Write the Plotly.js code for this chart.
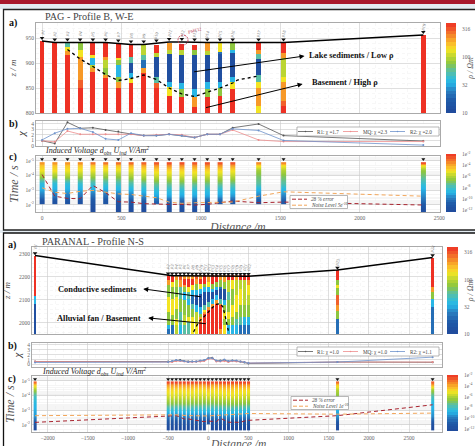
<!DOCTYPE html>
<html><head><meta charset="utf-8">
<script src="https://cdn.plot.ly/plotly-3.0.1.min.js"></script>
<style>html,body{margin:0;padding:0;background:#fff;overflow:hidden}#c{width:475px;height:446px}</style>
</head><body><div id="c"></div>
<script>
// resistivity colour codes (log10 ohm m)
const R=2.6,D=2.47,O=2.33,Y=2.12,L=2.0,G=1.88,T=1.74,C=1.54,M=1.32,B=1.08;

// ---- PAG profile ----
const pagX=[0,80,160,240,320,400,480,560,640,720,800,880,960,1040,1120,1200,1363,1520,2400];
const pagElev=[944,941,941,941,941,941,939,937,937,939,942,942,941,941,941,941,941,941,956];
const pagLayers=[
 [[944,R]],
 [[941,R]],
 [[941,T],[933,Y],[925,O],[917,R]],
 [[941,G],[927,Y],[913,O],[867,D],[850,R]],
 [[941,R],[917,Y],[911,C],[897,L],[890,O],[883,R]],
 [[941,R],[913,O],[907,L],[890,G],[877,O],[870,R]],
 [[938,R],[910,Y],[907,G],[897,C],[873,G],[863,O],[850,R]],
 [[937,R],[913,T],[900,B],[880,C],[870,Y],[860,R]],
 [[937,L],[917,T],[907,M],[890,O],[880,R]],
 [[937,R],[920,L],[912,B],[873,T],[861,D],[850,R]],
 [[941,O],[927,L],[918,B],[863,C],[852,Y],[835,R]],
 [[938,R],[927,L],[917,B],[861,C],[848,G],[833,R]],
 [[937,R],[927,G],[917,B],[848,C],[832,O],[813,R]],
 [[941,O],[925,L],[917,B],[863,C],[848,G],[832,R]],
 [[941,Y],[922,M],[918,B],[863,C],[850,G],[835,R]],
 [[941,G],[927,C],[920,B],[873,C],[863,Y],[848,R]],
 [[941,R],[927,O],[918,T],[908,B],[877,T],[863,Y],[850,O],[815,Y]],
 [[941,R],[920,O],[910,L],[873,Y],[863,O],[825,D],[815,R]],
 [[956,R]]
];
const pagInterfaceX=[160,240,320,400,480,560,640,720,800,880,960,1040,1120,1200,1230,1363];
const pagInterfaceZ=[927,908,893,877,865,869,876,867,850,838,833,841,850,860,866,874];
const pagR1=[0.9,0.4,4.3,3.2,3.3,2.9,2.6,2.15,1.85,1.85,2.1,1.85,1.5,2.1,2.1,3.3,4.0,1.85,0.85];
const pagMQ=[0.9,0.7,2.7,2.1,2.1,2.1,2.1,2.1,1.85,2.0,2.1,2.0,1.5,2.1,2.1,2.9,1.05,0.75,0.75];
const pagR2=[1.05,2.3,3.1,3.2,2.5,1.25,1.05,2.3,1.85,1.85,2.1,1.85,1.5,2.1,2.1,3.1,2.8,0.95,0.1];
const pagError=[8.5e-5,2.6e-3,3.7e-3,3.9e-3,4.8e-4,1.5e-3,6.3e-3,6.6e-3,8.5e-3,9.5e-3,9.5e-3,9.5e-3,1.05e-2,9.5e-3,7.3e-3,5.6e-3,7.3e-3,6.6e-3,1.05e-2];
const pagNoise=[6.9e-4,1.4e-3,1.7e-3,1.2e-3,1.05e-3,1.4e-3,1.8e-3,2e-3,2.6e-3,3.3e-3,6.6e-3,8.1e-3,7.3e-3,7.3e-3,6.6e-3,6.6e-3,2.6e-3,1.3e-3,2.6e-3];
const pagGates=[1.38e-5,1.8e-5,4e-5,1.1e-4,3.2e-4,8.9e-4,2.5e-3,6.1e-3,1.87e-2];
const pagDecay=[
 [-3.7,-4.5,-5.1,-6.3,-8.5,-9.0,-10.0,-11.5],
 [-3.7,-4.5,-5.0,-6.4,-8.4,-9.0,-10.1,-11.5],
 [-3.7,-4.5,-5.1,-6.2,-8.3,-9.0,-10.0,-11.4],
 [-3.6,-4.5,-5.2,-6.3,-8.2,-9.0,-10.1,-11.5],
 [-3.2,-4.5,-5.2,-6.4,-8.0,-9.0,-10.3,-11.2,-12],
 [-3.2,-4.5,-5.3,-6.5,-8.0,-9.0,-10.3,-11.3],
 [-3.1,-4.4,-5.3,-6.5,-7.9,-8.9,-10.2,-11.2,-12],
 [-3.0,-4.2,-5.2,-6.2,-7.7,-8.8,-10.0,-11.2,-12],
 [-2.9,-4.0,-5.0,-6.0,-7.5,-8.6,-9.6,-11.0,-12],
 [-2.7,-3.7,-4.8,-5.7,-7.2,-8.3,-9.2,-10.6],
 [-2.6,-3.6,-4.8,-5.7,-7.2,-8.3,-9.2,-10.6,-11.8],
 [-2.6,-3.6,-4.8,-5.6,-7.1,-8.3,-9.2,-10.6,-11.8],
 [-2.7,-3.7,-4.8,-5.7,-7.2,-8.3,-9.2,-10.6,-11.8],
 [-2.6,-3.6,-4.8,-5.7,-7.2,-8.3,-9.2,-10.6,-11.8],
 [-2.7,-3.7,-4.9,-5.8,-7.2,-8.4,-9.3,-10.8],
 [-2.7,-3.8,-5.0,-5.9,-7.3,-8.5,-9.4,-11.0],
 [-3.5,-4.8,-6.3,-7.0,-7.5,-8.8,-9.8,-11.3],
 [-3.5,-5.0,-6.0,-6.9,-7.6,-8.7,-9.8,-11.0],
 [-2.6,-5.0,-6.5,-7.2,-8.2,-9.0,-9.6,-10.4,-11.8]
];

// ---- PARANAL profile ----
const parX=[-2157,-500,-450,-400,-350,-300,-250,-200,-150,-100,-50,0,50,100,150,200,250,300,350,400,450,500,1608,2793];
const parElev=[2293,2205,2205,2205,2205,2205,2205,2204,2204,2204,2204,2204,2203,2203,2203,2203,2203,2203,2203,2203,2203,2203,2230,2284];
const parLayers=[
 [[2293,R],[2117,C],[2083,B]],
 [[2207,R],[2185,O],[2164,G],[2113,Y],[2048,G],[1990,C],[1975,M]],
 [[2207,R],[2178,Y],[2156,G],[2106,Y],[2033,G],[1990,M]],
 [[2207,O],[2185,L],[2156,G],[2113,Y],[2062,G],[2019,Y],[1990,L]],
 [[2207,D],[2185,O],[2156,T],[2106,G],[2048,T],[1990,C]],
 [[2207,O],[2193,R],[2164,O],[2156,G],[2135,C],[2098,G],[2033,L],[1990,T]],
 [[2207,O],[2193,R],[2156,Y],[2135,T],[2106,C],[2077,G],[2026,Y],[2004,T]],
 [[2207,O],[2193,R],[2164,Y],[2142,C],[2120,M],[2084,T],[2062,G],[2026,Y]],
 [[2207,D],[2193,O],[2171,G],[2142,C],[2120,B],[2077,C],[2048,L],[2004,Y]],
 [[2207,O],[2193,R],[2171,Y],[2149,C],[2127,B],[2069,C],[2040,G],[2026,O],[2004,R]],
 [[2207,R],[2171,G],[2156,C],[2135,B],[2077,T],[2055,Y],[2048,O],[2040,R]],
 [[2207,O],[2178,Y],[2156,C],[2135,B],[2091,T],[2069,O],[2055,R]],
 [[2207,R],[2171,G],[2149,C],[2135,B],[2106,C],[2084,O],[2069,R]],
 [[2207,R],[2178,G],[2156,C],[2142,B],[2120,C],[2098,O],[2084,R]],
 [[2207,O],[2185,G],[2156,M],[2149,B],[2106,T],[2084,O],[2077,R],[1975,O]],
 [[2207,O],[2178,G],[2149,B],[2098,C],[2077,G],[2048,Y],[2019,G],[1990,Y]],
 [[2207,R],[2185,L],[2135,T],[2098,G],[2048,Y],[2019,G],[1990,C]],
 [[2207,R],[2185,Y],[2149,G],[2077,Y],[2026,G],[1990,C]],
 [[2207,O],[2185,L],[2120,Y],[2048,G],[2019,T],[1990,C]],
 [[2207,R],[2185,L],[2149,Y],[2077,G],[2026,T],[1990,M]],
 [[2207,R],[2185,L],[2077,G],[2026,C],[1990,M]],
 [[2207,R],[2185,O],[2164,Y],[2120,L],[2077,G],[2026,C],[1990,M]],
 [[2230,R],[2187,G],[2165,Y],[2150,G],[2122,D],[2080,O],[2052,G],[2017,M]],
 [[2284,R],[2158,O],[2133,G],[2104,C],[2071,M]]
];
const parInterfaceX=[-183,-121,-37,25,87,150,183,212,253];
const parInterfaceZ=[1961,2004,2033,2055,2080,2084,2069,2026,1961];
const parR1=[0.6,0.6,0.6,0.8,0.9,0.7,0.6,0.6,0.6,0.7,0.8,1.3,1.4,0.7,0.8,0.9,0.6,0.8,0.7,0.6,0.4,0.2,0.5,0.45];
const parMQ=[0.6,0.5,0.5,0.7,0.7,0.6,0.5,0.5,0.6,0.6,0.7,1.1,1.2,0.6,0.6,0.7,0.5,0.7,0.6,0.6,0.5,0.3,0.5,0.5];
const parR2=[0.4,0.5,0.7,0.9,0.8,0.7,0.5,0.6,0.6,0.8,0.9,1.3,1.3,0.8,0.7,1.0,0.7,0.8,0.8,0.6,0.5,0.3,0.5,1.5];
const parError=[6.9e-3,2.4e-3,2.4e-3,2.4e-3,3e-3,4.1e-3,4e-3,4.5e-3,5e-3,6.2e-3,6.2e-3,5.6e-3,6.2e-3,6.2e-3,3.6e-3,5e-3,6.8e-3,6.8e-3,6.8e-3,6.8e-3,5.6e-3,5e-3,2.4e-3,4.3e-4];
const parNoise=[2.4e-3,1.95e-3,2e-3,2.1e-3,2.2e-3,2.4e-3,2.4e-3,2.4e-3,2.5e-3,2.5e-3,2.5e-3,2.5e-3,2.4e-3,2.4e-3,2.2e-3,2.1e-3,2e-3,1.95e-3,1.9e-3,1.8e-3,1.7e-3,1.7e-3,1.9e-3,1.6e-3];
const parGates=[1.27e-5,1.8e-5,4e-5,1.1e-4,3.2e-4,8.9e-4,2.5e-3,6.1e-3,1.6e-2];
const parDecay=[
 [-3.0,-4.5,-6.3,-8.0,-8.7,-9.0,-9.4,-10.8,-12],
 [-2.4,-3.7,-4.8,-5.6,-6.7,-8.3,-9.9,-11.2,-12],
 [-2.4,-3.7,-4.8,-5.5,-6.7,-8.3,-9.9,-11.2,-12],
 [-2.3,-3.6,-4.8,-5.6,-6.8,-8.4,-9.9,-11.3,-12],
 [-2.4,-3.7,-4.9,-5.6,-6.8,-8.4,-9.9,-11.2,-12],
 [-2.4,-3.7,-4.8,-5.6,-6.7,-8.3,-9.8,-11.2,-12],
 [-2.3,-3.6,-4.8,-5.5,-6.7,-8.3,-9.8,-11.1,-12],
 [-2.4,-3.7,-4.8,-5.6,-6.8,-8.3,-9.9,-11.2,-12],
 [-2.4,-3.7,-4.9,-5.6,-6.8,-8.4,-9.9,-11.2,-12],
 [-2.5,-3.8,-4.9,-5.7,-6.8,-8.4,-9.9,-11.2,-12],
 [-2.5,-3.8,-4.9,-5.7,-6.9,-8.4,-10,-11.2,-12],
 [-2.2,-3.2,-4.6,-5.5,-6.8,-8.4,-10,-11.4],
 [-2.5,-3.8,-4.9,-5.7,-6.9,-8.4,-10,-11.2,-12],
 [-2.4,-3.7,-4.8,-5.6,-6.8,-8.3,-9.9,-11.2,-12],
 [-2.4,-3.7,-4.8,-5.6,-6.7,-8.3,-9.8,-11.1,-12],
 [-2.3,-3.6,-4.7,-5.5,-6.7,-8.2,-9.7,-11.1,-12],
 [-2.3,-3.6,-4.7,-5.4,-6.6,-8.1,-9.7,-11,-12],
 [-2.4,-3.6,-4.7,-5.4,-6.6,-8.1,-9.6,-11,-12],
 [-2.4,-3.7,-4.8,-5.5,-6.6,-8.2,-9.7,-11,-12],
 [-2.3,-3.6,-4.8,-5.5,-6.7,-8.2,-9.7,-11.1,-12],
 [-2.4,-3.7,-4.8,-5.6,-6.7,-8.3,-9.8,-11.2,-12],
 [-2.4,-3.7,-4.9,-5.6,-6.8,-8.4,-9.9,-11.2,-12],
 [-3.0,-4.5,-5.9,-6.8,-8.0,-8.9,-9.4,-11,-12],
 [-2.8,-3.8,-6.2,-7.8,-8.8,-9.0,-9.5,-11,-12]
];

// tick labels and texts
const yTimeVals=[1e-5,1e-4,1e-3,1e-2];
const yTimeText=['1e<sup>-5</sup>','1e<sup>-4</sup>','1e<sup>-3</sup>','1e<sup>-2</sup>'];
const rhoVals=[1,1.5,2,2.5];
const rhoText=['10','32','100','316'];
const voltVals=[-12,-10,-8,-6,-4,-2];
const voltText=['1e<sup>-12</sup>','1e<sup>-10</sup>','1e<sup>-8</sup>','1e<sup>-6</sup>','1e<sup>-4</sup>','1e<sup>-2</sup>'];
const pagChiNames=['R1: χ =1.7','MQ: χ =2.3','R2: χ =2.0'];
const parChiNames=['R1: χ =1.0','MQ: χ =1.0','R2: χ =1.1'];
const pagDataNames=['28 % error','Noise Level 5e<sup>-10</sup>'];
const parDataNames=['28 % error','Noise Level 1e<sup>-10</sup>'];

const W=475,H=446;
const SERIF='"Liberation Serif","DejaVu Serif",serif';
const px=x=>x/W, py=y=>1-y/H;
const scale=[[0,'#20499b'],[0.14,'#1f5aa8'],[0.25,'#2a7fc1'],[0.33,'#26b5e8'],[0.38,'#30bcd9'],[0.47,'#5dbf9f'],[0.55,'#8dc63f'],[0.62,'#b7d433'],[0.70,'#f3e422'],[0.76,'#fbc52c'],[0.83,'#f79a28'],[0.92,'#f15f2b'],[1,'#ee3124']];
const tickFont={family:SERIF,size:5.5,color:'#666'};
const COLOR_R1='#555',COLOR_MQ='#ee8d8d',COLOR_R2='#6f93cc',COLOR_ERR='#a8232e',COLOR_NOISE='#f2a65a';
const traces=[];

function addColumns(xs,layers,floor,w,xa,ya){
  const bx=[],bb=[],bh=[],bc=[];
  xs.forEach((x,i)=>layers[i].forEach((l,j)=>{
    const low=j+1<layers[i].length?layers[i][j+1][0]:floor;
    bx.push(x);bb.push(low);bh.push(l[0]-low);bc.push(l[1]);
  }));
  traces.push({type:'bar',x:bx,y:bh,base:bb,width:w,xaxis:xa,yaxis:ya,showlegend:false,hoverinfo:'skip',
    marker:{color:bc,cmin:1,cmax:2.6,colorscale:scale,line:{width:0},showscale:false}});
}
function addDecay(xs,gates,decay,w,xa,ya){
  xs.forEach((x,i)=>traces.push({type:'heatmap',x:[x-w/4,x+w/4],y:gates.slice(0,decay[i].length),z:decay[i].map(v=>[v,v]),zmin:-12.3,zmax:-2,
      colorscale:scale,zsmooth:'best',xaxis:xa,yaxis:ya,hoverinfo:'skip',showlegend:false,showscale:false}));
}
// colour bars drawn as one-column heatmaps on their own small axes, in 24 bands
function addBar(lo,hi,xa,ya){
  const ys=[],z=[];
  for(let k=0;k<24;k++){const v=lo+(k+0.5)/24*(hi-lo);ys.push(v);z.push([v,v]);}
  traces.push({type:'heatmap',x:[0,1],y:ys,z,zmin:lo,zmax:hi,colorscale:scale,xaxis:xa,yaxis:ya,hoverinfo:'skip',showlegend:false,showscale:false});
}
function addLine(x,y,xa,ya,name,color,extra){
  traces.push(Object.assign({type:'scatter',mode:'lines+markers',x,y,xaxis:xa,yaxis:ya,name,showlegend:false,
    line:{color,width:0.8},marker:{color,size:2},hoverinfo:'skip'},extra||{}));
}
function addPanel(xs,elev,lift,ifx,ifz,xa,ya){
  traces.push({type:'scatter',mode:'lines',x:ifx,y:ifz,xaxis:xa,yaxis:ya,showlegend:false,hoverinfo:'skip',line:{color:'#000',width:1.3,dash:'3px,3px'}});
  traces.push({type:'scatter',mode:'lines',x:xs,y:elev,xaxis:xa,yaxis:ya,showlegend:false,hoverinfo:'skip',line:{color:'#000',width:1.5}});
  traces.push({type:'scatter',mode:'markers',x:xs,y:elev.map(e=>e+lift),xaxis:xa,yaxis:ya,showlegend:false,hoverinfo:'skip',marker:{symbol:'triangle-down',color:'#111',size:4}});
}
function addTriangles(xs,t,xa,ya){
  traces.push({type:'scatter',mode:'markers',x:xs,y:xs.map(()=>t),xaxis:xa,yaxis:ya,showlegend:false,hoverinfo:'skip',marker:{symbol:'triangle-down',color:'#111',size:3.5}});
}
const dashLine=c=>({mode:'lines',line:{color:c,width:1,dash:'4px,3px'}});

// top figure
addColumns(pagX,pagLayers,800,30,'x','y');
addPanel(pagX,pagElev,6,pagInterfaceX,pagInterfaceZ,'x','y');
addLine(pagX,pagR1,'x2','y2',pagChiNames[0],COLOR_R1);
addLine(pagX,pagMQ,'x2','y2',pagChiNames[1],COLOR_MQ);
addLine(pagX,pagR2,'x2','y2',pagChiNames[2],COLOR_R2);
addDecay(pagX,pagGates,pagDecay,30,'x3','y3');
addTriangles(pagX,7.5e-6,'x3','y3');
addLine(pagX,pagError,'x3','y3',pagDataNames[0],COLOR_ERR,dashLine(COLOR_ERR));
addLine(pagX,pagNoise,'x3','y3',pagDataNames[1],COLOR_NOISE,dashLine(COLOR_NOISE));

// bottom figure
addColumns(parX,parLayers,1952,35,'x4','y4');
addPanel(parX,parElev,10,parInterfaceX,parInterfaceZ,'x4','y4');
addLine(parX,parR1,'x5','y5',parChiNames[0],COLOR_R1);
addLine(parX,parMQ,'x5','y5',parChiNames[1],COLOR_MQ);
addLine(parX,parR2,'x5','y5',parChiNames[2],COLOR_R2);
addDecay(parX,parGates,parDecay,35,'x6','y6');
addTriangles(parX,7.5e-6,'x6','y6');
addLine(parX,parError,'x6','y6',parDataNames[0],COLOR_ERR,dashLine(COLOR_ERR));
addLine(parX,parNoise,'x6','y6',parDataNames[1],COLOR_NOISE,dashLine(COLOR_NOISE));

// colour bars
addBar(1,2.6,'x7','y7');addBar(-12.3,-2,'x8','y8');addBar(1,2.6,'x9','y9');addBar(-12.3,-2,'x10','y10');

function xAxis(l,r,range,anchor,labels,title,standoff){
  const a={domain:[px(l),px(r)],range,anchor,dtick:500,tick0:0,showticklabels:labels,ticks:'',tickfont:tickFont,
    showgrid:true,gridcolor:'#c9c9c9',gridwidth:0.6,showline:true,mirror:true,linecolor:'#aaa',linewidth:1,zeroline:false,
    minor:{dtick:100,showgrid:true,gridcolor:'#efefef',griddash:'dot',gridwidth:0.5}};
  if(title) a.title={text:title,standoff,font:{family:SERIF,size:11.5,color:'#555',style:'italic'}};
  return a;
}
function yAxis(t,b,range,anchor,opt){
  return Object.assign({domain:[py(b),py(t)],range,anchor,ticks:'',tickfont:tickFont,showgrid:true,gridcolor:'#c9c9c9',gridwidth:0.6,
    showline:true,mirror:true,linecolor:'#aaa',linewidth:1,zeroline:false},opt);
}
const barX=(l,r,anchor)=>({domain:[px(l),px(r)],anchor,visible:false,range:[-0.5,1.5]});
const barY=(t,b,range,anchor,vals,text,title)=>{
  const a={domain:[py(b),py(t)],range,anchor,side:'right',tickmode:'array',tickvals:vals,ticktext:text,ticks:'outside',ticklen:4,tickcolor:'rgba(0,0,0,0)',
    tickfont:tickFont,showgrid:false,zeroline:false,showline:false};
  if(title) a.title={text:title,standoff:5,font:{family:SERIF,size:8,color:'#555',style:'italic'}};
  return a;
};
const timeAxis={type:'log',tickmode:'array',tickvals:yTimeVals,ticktext:yTimeText,minor:{dtick:'D1',showgrid:true,gridcolor:'#ececec',gridwidth:0.5},
  title:{text:'Time / s',standoff:4,font:{family:SERIF,size:12,color:'#555',style:'italic'}}};
const chi={tick0:0,dtick:1,title:{text:'χ',standoff:3,font:{family:SERIF,size:11,color:'#333',style:'italic'}}};

const lbl=(text,x,y,opt)=>Object.assign({xref:'paper',yref:'paper',x:px(x),y:py(y),text,showarrow:false,xanchor:'left',yanchor:'middle',font:{family:SERIF,size:10,color:'#111'}},opt||{});
const bold=(t,x,y,s)=>lbl('<b>'+t+'</b>',x,y,{font:{family:SERIF,size:s||10,color:'#111'}});
const title=(t,x,y)=>lbl(t,x,y,{font:{family:SERIF,size:10.2,color:'#444'}});
const ind=(t,x,y)=>lbl(t,x,y,{font:{family:SERIF,size:8,color:'#222',style:'italic'}});
const arrow=(xa,ya,hx,hy,tx,ty)=>({xref:xa,yref:ya,axref:xa,ayref:ya,x:hx,y:hy,ax:tx,ay:ty,text:'',showarrow:true,arrowhead:2,arrowsize:1,arrowwidth:1,arrowcolor:'#000'});

const ann=[
 title('PAG - Profile B, W-E',43,16.5),bold('a)',7,23),bold('b)',7,124),bold('c)',7,157),
 ind('Induced Voltage d<sub>obs</sub> U<sub>ind</sub> V/Am<sup>2</sup>',43,150),
 title('PARANAL - Profile N-S',40,241),bold('a)',6,245),bold('b)',6,346),bold('c)',6,379),
 ind('Induced Voltage d<sub>obs</sub> U<sub>ind</sub> V/Am<sup>2</sup>',40,371),
 bold('Lake sediments / Low ρ',307,55,8.4),bold('Basement / High ρ',310,83,8.4),
 bold('Conductive sediments',56,289,8.4),bold('Alluvial fan / Basement',55,318,8.4),
 arrow('x','y',1652,914,948,882),arrow('x','y',1640,858,1023,810),
 arrow('x4','y4',-810,2148,-75,2113),arrow('x4','y4',-748,2022,-12,1996),
 lbl('PMT12',185,31,{textangle:-15,font:{family:SERIF,size:4.5,color:'#c0314a'}}),
 lbl('Distance /m',238,444,{xanchor:'center',font:{family:SERIF,size:11.5,color:'#555',style:'italic'}})
];
const markLabels=(xs,elev,xa,ya)=>xs.map((x,i)=>({xref:xa,yref:ya,x,y:elev[i],yshift:9,text:'p'+(i+1),showarrow:false,textangle:-70,font:{family:SERIF,size:4.5,color:'#777'}}));
ann.push(...markLabels(pagX,pagElev,'x','y'),...markLabels(parX,parElev,'x4','y4'));

const rect=(x0,y0,x1,y1,o)=>Object.assign({type:'rect',xref:'paper',yref:'paper',x0:px(x0),x1:px(x1),y0:py(y0),y1:py(y1),line:{width:0},layer:'below'},o);
const hseg=(x0,x1,y,color,dash)=>({type:'line',xref:'paper',yref:'paper',x0:px(x0),x1:px(x1),y0:py(y),y1:py(y),line:{color,width:dash?1:0.8,dash:dash?'4px,2px':'solid'}});
const dot=(x,y,color)=>({type:'circle',xref:'paper',yref:'paper',x0:px(x-0.8),x1:px(x+0.8),y0:py(y+0.8),y1:py(y-0.8),fillcolor:color,line:{width:0}});
const shapes=[
 rect(0,0,475,4,{fillcolor:'#a8182c'}),
 rect(0,4,475,9,{fillcolor:'#e3ebf1'}),
 rect(0,230,475,233,{fillcolor:'#e3ebf1'}),
 rect(3.5,9.5,480,230,{line:{color:'#222',width:1.3}}),
 rect(3.5,233,480,452,{line:{color:'#111',width:1.3}}),
 {type:'circle',xref:'paper',yref:'paper',x0:px(178),x1:px(188),y0:py(45),y1:py(35),line:{color:'#c0314a',width:0.9,dash:'2px,1px'}}
];
// legends, hand-placed because Plotly's own legend rows cannot be as tight as the figure's
const legendFont={family:SERIF,size:5.2,color:'#444'};
function chiLegend(top,names){
  const mid=top+4.5;
  shapes.push(rect(297,top,439,top+9,{layer:'above',fillcolor:'#fff',line:{color:'#999',width:0.7}}));
  [[298,COLOR_R1,315],[343,COLOR_MQ,361],[390,COLOR_R2,408]].forEach((e,i)=>{
    shapes.push(hseg(e[0],e[0]+15,mid,e[1]),dot(e[0]+7.5,mid,e[1]));
    ann.push(lbl(names[i],e[2],mid,{font:legendFont}));
  });
}
function dataLegend(left,top,names){
  shapes.push(rect(left,top,left+57.5,top+13,{layer:'above',fillcolor:'#fff',line:{color:'#999',width:0.7}}));
  [[COLOR_ERR,3.7],[COLOR_NOISE,9.7]].forEach((e,i)=>{
    shapes.push(hseg(left+2,left+17,top+e[1],e[0],true));
    ann.push(lbl(names[i],left+19,top+e[1],{font:Object.assign({},legendFont,{style:'italic'})}));
  });
}
chiLegend(127,pagChiNames);dataLegend(290,195.5,pagDataNames);
chiLegend(347,parChiNames);dataLegend(291,396.5,parDataNames);

const layout={width:W,height:H,margin:{l:0,r:0,t:0,b:0},paper_bgcolor:'#fff',plot_bgcolor:'#fff',barmode:'overlay',bargap:0,showlegend:false,
 font:{family:SERIF},
 xaxis:xAxis(36,440,[-38,2505],'y',false),
 yaxis:yAxis(23,113,[800,980],'x',{dtick:50,minor:{dtick:10,showgrid:true,gridcolor:'#efefef',griddash:'dot',gridwidth:0.5},title:{text:'z / m',standoff:7,font:{family:SERIF,size:9,color:'#444',style:'italic'}}}),
 xaxis2:xAxis(36,440,[-38,2505],'y2',false),
 yaxis2:yAxis(121,146,[-0.07,4.55],'x2',chi),
 xaxis3:xAxis(36,440,[-38,2505],'y3',true,'Distance /m',3),
 yaxis3:yAxis(156,212,[-1.5,-5.34],'x3',timeAxis),
 xaxis4:xAxis(32,442,[-2195,2910],'y4',false),
 yaxis4:yAxis(247,334,[1952,2330],'x4',{dtick:100,minor:{dtick:20,showgrid:true,gridcolor:'#efefef',griddash:'dot',gridwidth:0.5},title:{text:'z / m',standoff:6,font:{family:SERIF,size:9,color:'#444',style:'italic'}}}),
 xaxis5:xAxis(32,442,[-2195,2910],'y5',false),
 yaxis5:yAxis(343,367,[-0.51,4.39],'x5',chi),
 xaxis6:xAxis(32,442,[-2195,2910],'y6',true),
 yaxis6:yAxis(376,432,[-1.5,-5.34],'x6',timeAxis),
 xaxis7:barX(446,456,'y7'),yaxis7:barY(23,113,[1,2.6],'x7',rhoVals,rhoText,'ρ / Ωm'),
 xaxis8:barX(446,456,'y8'),yaxis8:barY(154,212,[-12.3,-2],'x8',voltVals,voltText),
 xaxis9:barX(447,458,'y9'),yaxis9:barY(247,334,[1,2.6],'x9',rhoVals,rhoText,'ρ / Ωm'),
 xaxis10:barX(447,458,'y10'),yaxis10:barY(375,431,[-12.3,-2],'x10',voltVals,voltText),
 annotations:ann,shapes
};
Plotly.newPlot('c',traces,layout,{displayModeBar:false,staticPlot:true});
</script></body></html>
